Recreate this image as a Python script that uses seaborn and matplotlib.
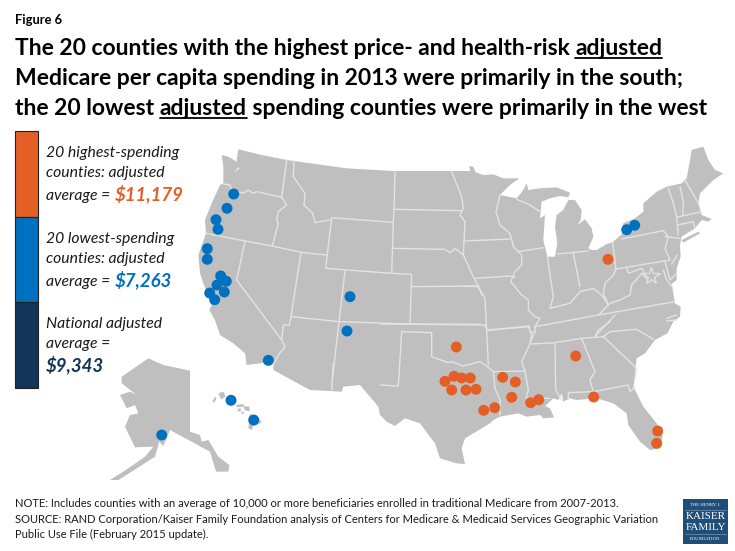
import matplotlib
matplotlib.use('Agg')
import matplotlib.pyplot as plt
from matplotlib.patches import Polygon, Rectangle
import pandas as pd
import seaborn as sns

# county dots in pixels
high_x = [456.3, 445, 454, 461.7, 470.3, 451.7, 466, 476, 483.7, 494.7, 502.7, 515.3, 511.7, 530.7, 538.7, 575.7, 593.7, 657.7, 656.7, 608]
high_y = [347, 381.3, 376.3, 378, 378, 390, 390, 389.3, 410.3, 407.7, 377.3, 382, 397.3, 402.7, 399.7, 356, 397, 431, 443.3, 259.3]
low_x = [233.7, 227, 216, 218, 207.3, 207.3, 220.7, 226.3, 217, 224.3, 209.7, 214.7, 350, 347, 268.3, 626.7, 634.7, 231, 253.7, 161.7]
low_y = [194, 208.3, 219.7, 229.3, 248.7, 259.3, 276, 281.3, 285, 292, 293, 299.7, 296.7, 331, 360.3, 229.7, 225.3, 400.3, 420, 435]

ORANGE = '#E35F26'
BLUE = '#0070C0'
NAVY = '#13355A'
LAND = '#BFBFBF'
BORDER = '#E3E3E3'

# map shapes were traced on 3x crops, so each list has its own origin
W = (190, 140)
E = (460, 140)
AK = (110, 340)
S = (380, 320)


def px(origin, pts):
    return [(origin[0] + x / 3, origin[1] + y / 3) for x, y in pts]


lower48 = (
    px(W, [(145, 28), (215, 45), (290, 60), (470, 85), (610, 93), (840, 93), (838, 78), (850, 80), (857, 97)])
    + px(E, [(70, 105), (100, 103), (130, 115), (178, 115), (150, 135), (120, 165), (170, 175), (190, 150),
             (200, 130), (205, 150), (240, 145), (290, 142), (330, 158), (325, 172), (300, 168), (270, 175),
             (245, 185), (240, 235), (255, 225), (250, 300), (262, 350), (285, 350), (292, 310), (285, 260),
             (290, 225), (310, 210), (325, 180), (345, 180), (365, 210), (362, 240), (352, 255), (375, 238),
             (395, 265), (400, 290), (385, 325), (395, 330), (410, 330), (440, 312), (458, 307), (485, 283),
             (490, 250), (525, 235), (550, 215), (550, 190), (590, 155), (620, 140), (665, 130), (680, 115),
             (690, 60), (695, 30), (730, 20), (745, 60), (765, 90), (790, 100), (760, 120), (720, 160),
             (715, 190), (725, 225), (755, 237), (745, 245), (725, 240), (705, 265), (665, 290), (660, 315),
             (662, 350), (650, 385), (650, 420), (635, 432), (640, 460), (645, 490), (662, 500), (660, 530),
             (640, 545), (622, 580), (585, 600), (555, 640), (530, 655), (525, 700)])
    + px(S, [(765, 170), (760, 200), (790, 260), (830, 310), (848, 345), (840, 385), (810, 390), (780, 365),
             (745, 315), (740, 280), (700, 250), (650, 235), (590, 240), (570, 235), (550, 245), (545, 220),
             (535, 240), (520, 235), (495, 258), (510, 265), (522, 292), (490, 295), (480, 285), (440, 290),
             (415, 280), (360, 290), (340, 300), (330, 310), (255, 355), (245, 385), (255, 432), (230, 430),
             (180, 415), (165, 370), (120, 310), (75, 295), (45, 318), (20, 305), (0, 285)])
    + px(AK, [(805, 200), (750, 135), (700, 140), (695, 155), (600, 150), (490, 90)])
    + px(W, [(250, 680), (250, 665), (170, 675), (165, 640), (130, 610), (90, 585), (75, 540), (58, 510),
             (65, 495), (40, 430), (30, 400), (25, 345), (48, 280), (45, 240), (65, 190), (90, 135), (100, 130),
             (100, 80), (95, 45), (115, 50), (140, 65), (152, 75), (130, 100), (148, 85), (140, 60)])
)

alaska = px(AK, [(115, 55), (160, 75), (240, 92), (240, 275), (270, 285), (275, 305), (295, 300), (325, 350),
                 (358, 375), (355, 395), (318, 395), (300, 335), (180, 270), (160, 318), (148, 305), (135, 350),
                 (65, 395), (25, 420), (0, 420), (55, 385), (105, 350), (130, 320), (75, 322), (45, 260),
                 (60, 225), (85, 220), (75, 195), (50, 205), (30, 165), (60, 155), (80, 165), (35, 130), (35, 110)])

islands = [
    px(AK, [(325, 160), (340, 155), (347, 170), (333, 178)]),
    px(AK, [(307, 185), (315, 170), (320, 175), (312, 188)]),
    px(AK, [(350, 175), (375, 180), (370, 192), (355, 190)]),
    px(AK, [(378, 195), (400, 192), (402, 200), (382, 202)]),
    px(AK, [(400, 198), (418, 200), (420, 213), (405, 212)]),
    px(AK, [(382, 207), (392, 205), (393, 214), (384, 214)]),
    px(AK, [(395, 215), (402, 216), (400, 222), (394, 221)]),
    px(AK, [(420, 222), (445, 232), (455, 248), (430, 258), (425, 270), (415, 265)]),
    px(E, [(665, 300), (715, 275), (720, 280), (670, 308)]),
]

borders = [
    px(W, [(100, 132), (120, 135), (125, 150), (160, 160), (175, 150), (190, 160), (200, 155), (275, 172)]),
    px(W, [(290, 60), (275, 172), (290, 195), (265, 215), (260, 240), (265, 250), (247, 318)]),
    px(W, [(48, 280), (165, 303), (247, 318), (333, 337), (410, 345)]),
    px(W, [(165, 303), (140, 420), (275, 600), (285, 620), (265, 645), (250, 675)]),
    px(W, [(333, 337), (303, 530), (298, 555), (280, 555), (275, 600)]),
    px(W, [(312, 62), (310, 110), (345, 160), (342, 195), (368, 220), (375, 248), (418, 240)]),
    px(W, [(425, 233), (407, 385), (605, 400), (665, 403), (660, 552)]),
    px(W, [(465, 392), (447, 545)]),
    px(W, [(303, 530), (447, 545)]),
    px(W, [(447, 545), (427, 720)]),
    px(AK, [(670, 70), (665, 150)]),
    px(W, [(425, 233), (610, 247)]),
    px(W, [(615, 93), (612, 208), (610, 247), (605, 400)]),
    px(W, [(665, 440), (865, 438)]),
    px(W, [(612, 208), (815, 212)]),
    px(W, [(608, 325), (765, 328), (780, 338), (795, 325), (820, 345)]),
    px(W, [(785, 95), (815, 170), (820, 205), (810, 225), (825, 245), (822, 305), (820, 345), (850, 410), (865, 438), (875, 465)]),
    px(W, [(447, 545), (660, 552), (870, 553)]),
    px(S, [(0, 12), (315, 15), (320, 30), (325, 135)]),
    px(S, [(65, 35), (55, 198), (0, 195)]),
    px(S, [(65, 35), (155, 38), (155, 110), (205, 128), (215, 125), (250, 138), (300, 125), (320, 138), (340, 155), (435, 153)]),
    px(S, [(320, 30), (445, 20), (455, 42), (450, 72), (425, 125), (435, 153), (445, 210), (438, 235), (510, 235)]),
    px(S, [(340, 155), (345, 205), (360, 240), (360, 285)]),
    px(S, [(455, 72), (525, 68), (605, 55), (670, 50), (770, 145), (765, 175)]),
    px(S, [(525, 70), (527, 210), (545, 240)]),
    px(S, [(605, 55), (645, 155), (630, 180), (640, 215), (565, 218), (565, 240)]),
    px(S, [(640, 215), (745, 195), (750, 215), (765, 200)]),
    px(S, [(670, 50), (690, 35), (770, 28), (820, 58)]),
    px(S, [(645, 50), (655, 30), (690, 5)]),
    px(E, [(120, 165), (108, 215), (120, 255), (150, 280), (160, 320), (185, 345), (185, 375), (165, 395), (152, 425),
           (185, 465), (205, 480), (205, 510), (225, 530), (240, 535), (225, 560), (225, 575), (210, 610)]),
    px(E, [(15, 303), (150, 297)]),
    px(E, [(45, 415), (150, 408), (165, 412)]),
    px(E, [(175, 335), (250, 323)]),
    px(E, [(262, 350), (280, 470), (270, 505), (330, 490), (360, 455), (400, 445), (425, 465), (445, 495), (430, 460),
           (435, 430), (460, 405), (468, 387), (458, 307)]),
    px(E, [(340, 340), (360, 440)]),
    px(E, [(292, 342), (385, 333)]),
    px(E, [(468, 387), (630, 360), (615, 325), (625, 290), (610, 272), (485, 297)]),
    px(E, [(615, 290), (660, 295)]),
    px(E, [(500, 385), (505, 400), (545, 385), (570, 425), (545, 400), (515, 435), (510, 465), (480, 480), (450, 490),
           (415, 525), (280, 550), (225, 560)]),
    px(E, [(415, 525), (645, 485)]),
    px(E, [(80, 572), (208, 558), (210, 578), (225, 575)]),
    px(E, [(0, 438), (55, 440), (75, 475), (80, 572)]),
    px(E, [(405, 590), (465, 525)]),
    px(E, [(625, 145), (640, 190), (650, 230), (655, 285)]),
    px(E, [(660, 140), (670, 185), (668, 225)]),
    px(E, [(675, 120), (715, 190)]),
    px(E, [(650, 232), (725, 215)]),
    px(E, [(652, 255), (700, 245), (705, 265)]),
    px(E, [(170, 178), (210, 195), (240, 215)]),
    px(E, [(615, 365), (630, 420), (650, 400)]),
    # bays cut into the coast
    px(E, [(610, 390), (620, 420), (640, 445)]),
    px(E, [(620, 535), (650, 525)]),
    px(E, [(620, 543), (650, 540)]),
    px(E, [(652, 345), (635, 372)]),
]

title_lines = [
    ['The 20 counties with the highest price- and health-risk ', '_adjusted'],
    ['Medicare per capita spending in 2013 were primarily in the south;'],
    ['the 20 lowest ', '_adjusted', ' spending counties were primarily in the west'],
]
note_lines = [
    'NOTE: Includes counties with an average of 10,000 or more beneficiaries enrolled in traditional Medicare from 2007-2013.',
    'SOURCE: RAND Corporation/Kaiser Family Foundation analysis of Centers for Medicare & Medicaid Services Geographic Variation',
    'Public Use File (February 2015 update).',
]
legend_text = [
    (['20 highest-spending', 'counties: adjusted', 'average = '], '$11,179', ORANGE, 157),
    (['20 lowest-spending', 'counties: adjusted', 'average = '], '$7,263', BLUE, 243),
    (['National adjusted', 'average ='], '$9,343', NAVY, 328),
]

sns.set_theme(style='white')
plt.rcParams['font.family'] = ['Lato', 'DejaVu Sans']

fig = plt.figure(figsize=(7.35, 5.51), dpi=100)
ax = fig.add_axes([0, 0, 1, 1])

for shape in [lower48, alaska] + islands:
    ax.add_patch(Polygon(shape, closed=True, facecolor=LAND, edgecolor='none', zorder=1))
for line in borders:
    ax.plot([p[0] for p in line], [p[1] for p in line], color=BORDER, lw=1, solid_joinstyle='round', zorder=2)
# DC star
ax.plot([651], [276], marker='*', ms=13, mfc=LAND, mec=BORDER, mew=0.9, zorder=3)

dots = pd.DataFrame({
    'x': high_x + low_x,
    'y': high_y + low_y,
    'group': ['high'] * len(high_x) + ['low'] * len(low_x),
})
sns.scatterplot(data=dots, x='x', y='y', hue='group', palette={'high': ORANGE, 'low': BLUE},
                s=62, linewidth=0, legend=False, ax=ax, zorder=4)

ax.set_xlim(0, 735)
ax.set_ylim(551, 0)
ax.axis('off')

renderer = fig.canvas.get_renderer()


def run_text(x, y, s, **kw):
    # place text and return where it ends, so the next piece can follow on
    t = ax.text(x, y, s, va='baseline', parse_math=False, **kw)
    return ax.transData.inverted().transform(t.get_window_extent(renderer).corners()[-1])[0]


ax.text(15, 24, 'Figure 6', fontsize=9.3, fontweight='bold', color='black', va='baseline')

for line, y in zip(title_lines, [55, 85, 115]):
    x = 15
    for piece in line:
        underlined = piece.startswith('_')
        word = piece.lstrip('_')
        end = run_text(x, y, word, fontsize=16.5, fontweight='bold', color='black')
        if underlined:
            ax.plot([x, end], [y + 2.6, y + 2.6], color='black', lw=1.3, zorder=5)
        x = end

# legend bar
for top, bottom, color in [(130.5, 216.7, ORANGE), (216.7, 302.3, BLUE), (302.3, 388, NAVY)]:
    ax.add_patch(Rectangle((15.5, top), 23, bottom - top, facecolor=color, edgecolor='#222222', lw=0.8, zorder=3))

for lines, amount, color, y in legend_text:
    for i, line in enumerate(lines):
        end = run_text(46, y + [0, 20, 43][i], line, fontsize=11.3, fontstyle='italic', color='#1a1a1a')
    if len(lines) == 3:
        run_text(end + 1, y + 43, amount, fontsize=13.4, fontstyle='italic', fontweight='bold', color=color)
    else:
        run_text(46, y + 43, amount, fontsize=13.4, fontstyle='italic', fontweight='bold', color=color)

for line, y in zip(note_lines, [507, 522.7, 537.7]):
    ax.text(15, y, line, fontsize=8.0, color='#1a1a1a', va='baseline')

# logo
ax.add_patch(Rectangle((683.3, 499.3), 44.4, 44.4, facecolor='#1F4E79', edgecolor='none', zorder=3))
serif = ['Liberation Serif', 'DejaVu Serif']
for s, y, size in [('THE HENRY J.', 505, 3.4), ('KAISER', 516.7, 8.0), ('FAMILY', 528, 8.0), ('FOUNDATION', 538.7, 3.4)]:
    ax.text(705.5, y, s, color='white', fontsize=size, family=serif, ha='center', va='center', zorder=4)
ax.plot([685, 726], [510, 510], color='#8FA7C4', lw=0.4, zorder=4)
ax.plot([685, 726], [534, 534], color='#8FA7C4', lw=0.4, zorder=4)

fig.savefig('out.png', dpi=100)
plt.close(fig)
